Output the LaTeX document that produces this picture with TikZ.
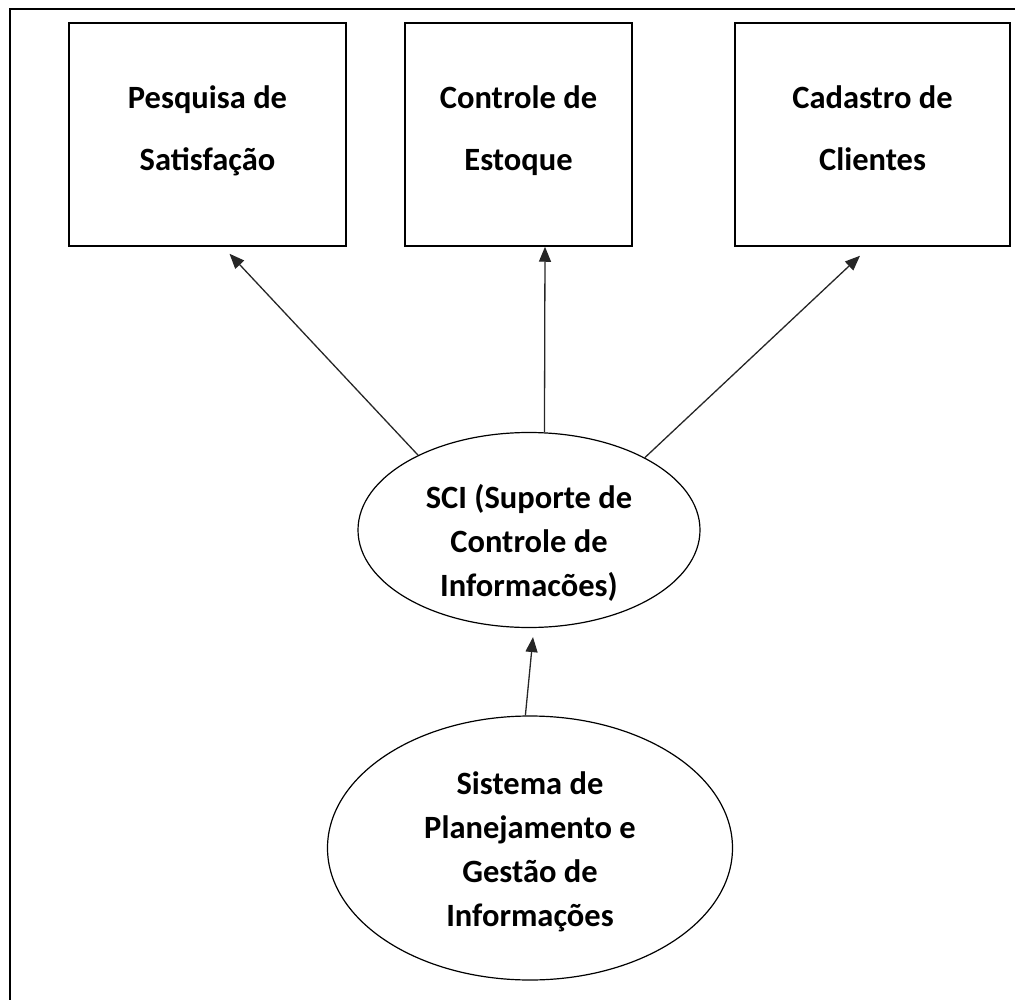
\documentclass[tikz,border=0pt]{standalone}
\usepackage{fontspec}
\setmainfont{Carlito}
\usetikzlibrary{shapes.geometric,arrows.meta,calc}
\begin{document}
\begin{tikzpicture}[x=1pt,y=-1pt,
  box/.style={draw, line width=1.5pt, minimum height=223pt, inner sep=0pt},
  ell/.style={draw, ellipse, line width=1.2pt, inner sep=0pt},
  boxtext/.style={inner sep=0pt, align=center, font=\fontsize{32.5}{62}\selectfont\bfseries},
  elltext/.style={inner sep=0pt, align=center, font=\fontsize{32.5}{44}\selectfont\bfseries},
  arr/.style={-{Triangle[length=15pt,width=12pt]}, line width=1.3pt, draw=black!85},
  frame/.style={line width=2.5pt}]
\useasboundingbox (0,0) rectangle (1015,1000);
\draw[frame] (10,1000) -- (10,9) -- (1015,9);

\node[box, minimum width=277pt] (b1) at (207.5,134.5) {};
\node[box, minimum width=227pt] (b2) at (518.5,134.5) {};
\node[box, minimum width=275pt] (b3) at (872.5,134.5) {};
\node[boxtext] (b1t) at ($(b1)+(0,-7)$) {Pesquisa de\strut\\Satisfação\strut};
\node[boxtext] (b2t) at ($(b2)+(0,-7)$) {Controle de\strut\\Estoque\strut};
\node[boxtext] (b3t) at ($(b3)+(0,-7)$) {Cadastro de\strut\\Clientes\strut};

\node[ell, minimum width=342pt, minimum height=195pt] (sci) at (529,530) {};
\node[ell, minimum width=405pt, minimum height=264pt] (pg) at (530,848) {};
\node[elltext] (scit) at ($(sci)+(0,14)$) {SCI (Suporte de\strut\\Controle de\strut\\Informacões)\strut};
\node[elltext] (pgt) at ($(pg)+(0,4)$) {Sistema de\strut\\Planejamento e\strut\\Gestão de\strut\\Informações\strut};

\coordinate (t1) at ($(b1.south)+(22,7)$);
\coordinate (t2) at ($(b2.south)+(26.5,0)$);
\coordinate (t3) at ($(b3.south)+(-12.5,9)$);
\coordinate (t4) at ($(sci.south)+(4,9)$);

\draw[arr] (sci.146) -- (t1);
\draw[arr] (sci.81) -- (t2);
\draw[arr] (sci.32) -- (t3);
\draw[arr] (pg.92) -- (t4);
\end{tikzpicture}
\end{document}
